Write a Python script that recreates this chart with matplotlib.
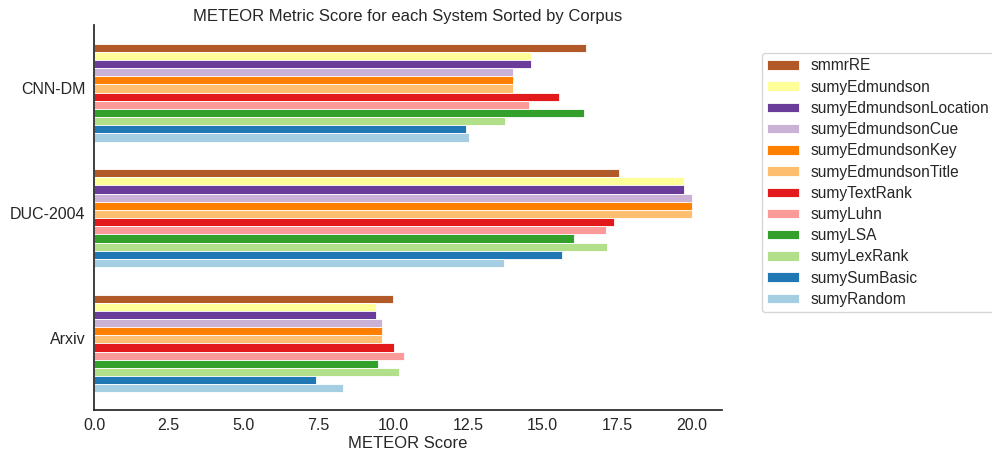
import matplotlib
matplotlib.use("Agg")
import matplotlib.pyplot as plt
import numpy as np

plt.rcParams['font.family'] = ['Liberation Sans', 'DejaVu Sans']

corpora = ["Arxiv", "DUC-2004", "CNN-DM"]
systems = ["smmrRE", "sumyEdmundson", "sumyEdmundsonLocation", "sumyEdmundsonCue",
           "sumyEdmundsonKey", "sumyEdmundsonTitle", "sumyTextRank", "sumyLuhn",
           "sumyLSA", "sumyLexRank", "sumySumBasic", "sumyRandom"]
# values per system: [Arxiv, DUC-2004, CNN-DM]
smmrRE = [9.99, 17.55, 16.46]
sumyEdmundson = [9.43, 19.73, 14.61]
sumyEdmundsonLocation = [9.43, 19.73, 14.61]
sumyEdmundsonCue = [9.62, 20.01, 14.02]
sumyEdmundsonKey = [9.62, 20.01, 14.02]
sumyEdmundsonTitle = [9.62, 20.01, 14.02]
sumyTextRank = [10.04, 17.40, 15.54]
sumyLuhn = [10.37, 17.13, 14.53]
sumyLSA = [9.50, 16.06, 16.38]
sumyLexRank = [10.21, 17.17, 13.76]
sumySumBasic = [7.42, 15.64, 12.45]
sumyRandom = [8.31, 13.72, 12.55]
values = [smmrRE, sumyEdmundson, sumyEdmundsonLocation, sumyEdmundsonCue,
          sumyEdmundsonKey, sumyEdmundsonTitle, sumyTextRank, sumyLuhn,
          sumyLSA, sumyLexRank, sumySumBasic, sumyRandom]

paired = plt.get_cmap("Paired").colors
colors = [paired[11], paired[10], paired[9], paired[8], paired[7], paired[6],
          paired[5], paired[4], paired[3], paired[2], paired[1], paired[0]]

fig = plt.figure(figsize=(9.92, 4.53), dpi=100)
ax = fig.add_axes([0.0948, 0.095, 0.633, 0.85])

K = len(systems)
total = 0.78
w = total / K
offset = -0.04
pos = np.arange(len(corpora))
handles = []
for i, (name, vals, c) in enumerate(zip(systems, values, colors)):
    y = pos + offset + total / 2 - (i + 0.5) * w
    h = ax.barh(y, vals, height=w, color=c, edgecolor="white", linewidth=0.6, label=name)
    handles.append(h)

ax.set_yticks(pos)
ax.set_yticklabels(corpora, fontsize=11.5, color="#262626")
ax.set_xlim(0, 21.0)
ax.set_ylim(-0.57, 2.5)
ax.set_xticks(np.arange(0, 21, 2.5))
ax.set_xticklabels([f"{v:.1f}" for v in np.arange(0, 21, 2.5)], fontsize=11.5, color="#262626")
ax.tick_params(length=0, pad=6)
ax.set_xlabel("METEOR Score", fontsize=12, color="#262626", labelpad=2)
ax.set_title("METEOR Metric Score for each System Sorted by Corpus", fontsize=12, color="#262626", pad=3)
for s in ["top", "right"]:
    ax.spines[s].set_visible(False)
for s in ["left", "bottom"]:
    ax.spines[s].set_color("#262626")
    ax.spines[s].set_linewidth(1.25)

leg = fig.legend(handles=handles, labels=systems, loc="upper left",
                 bbox_to_anchor=(762 / 992, 1 - 53 / 453), fontsize=11.2,
                 frameon=True, handlelength=2.0, handleheight=0.55,
                 labelspacing=0.4, borderpad=0.35, handletextpad=0.8, borderaxespad=0)
leg.get_frame().set_edgecolor("#cccccc")
for t in leg.get_texts():
    t.set_color("#262626")

fig.savefig("out.png", dpi=100)
